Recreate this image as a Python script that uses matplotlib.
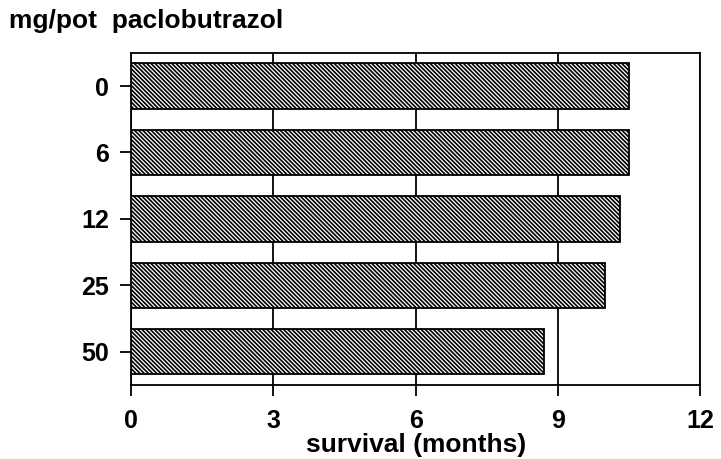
import matplotlib.pyplot as plt

# paclobutrazol doses (mg/pot) and survival in months
doses = ["0", "6", "12", "25", "50"]
survival = [10.5, 10.5, 10.3, 10.0, 8.7]
xticks = [0, 3, 6, 9, 12]

plt.rcParams['font.family'] = ['Liberation Sans', 'DejaVu Sans']
plt.rcParams['font.weight'] = 'bold'
plt.rcParams['hatch.linewidth'] = 1.2

fig = plt.figure(figsize=(7.21, 4.59), dpi=100)
ax = fig.add_axes([0.182, 0.161, 0.789, 0.724])

ypos = range(len(doses))
ax.barh(ypos, survival, height=0.68, color='white', edgecolor='black',
        hatch='\\\\\\\\\\\\\\\\', linewidth=1.3, zorder=3)

ax.set_xlim(0, 12)
ax.set_ylim(4.5, -0.5)
ax.set_xticks(xticks)
ax.set_yticks(list(ypos))
ax.set_yticklabels(doses)

ax.grid(axis='x', color='black', linewidth=1.3, zorder=0)
for s in ax.spines.values():
    s.set_linewidth(1.3)

ax.tick_params(axis='both', labelsize=18, length=8, width=1.3, direction='out')
ax.tick_params(axis='x', pad=9)
ax.tick_params(axis='y', pad=8)

ax.set_xlabel('survival (months)', fontsize=19, fontweight='bold', labelpad=0)
fig.text(0.013, 0.955, 'mg/pot  paclobutrazol', fontsize=19, fontweight='bold',
         ha='left', va='center')

fig.savefig('out.png', dpi=100)
